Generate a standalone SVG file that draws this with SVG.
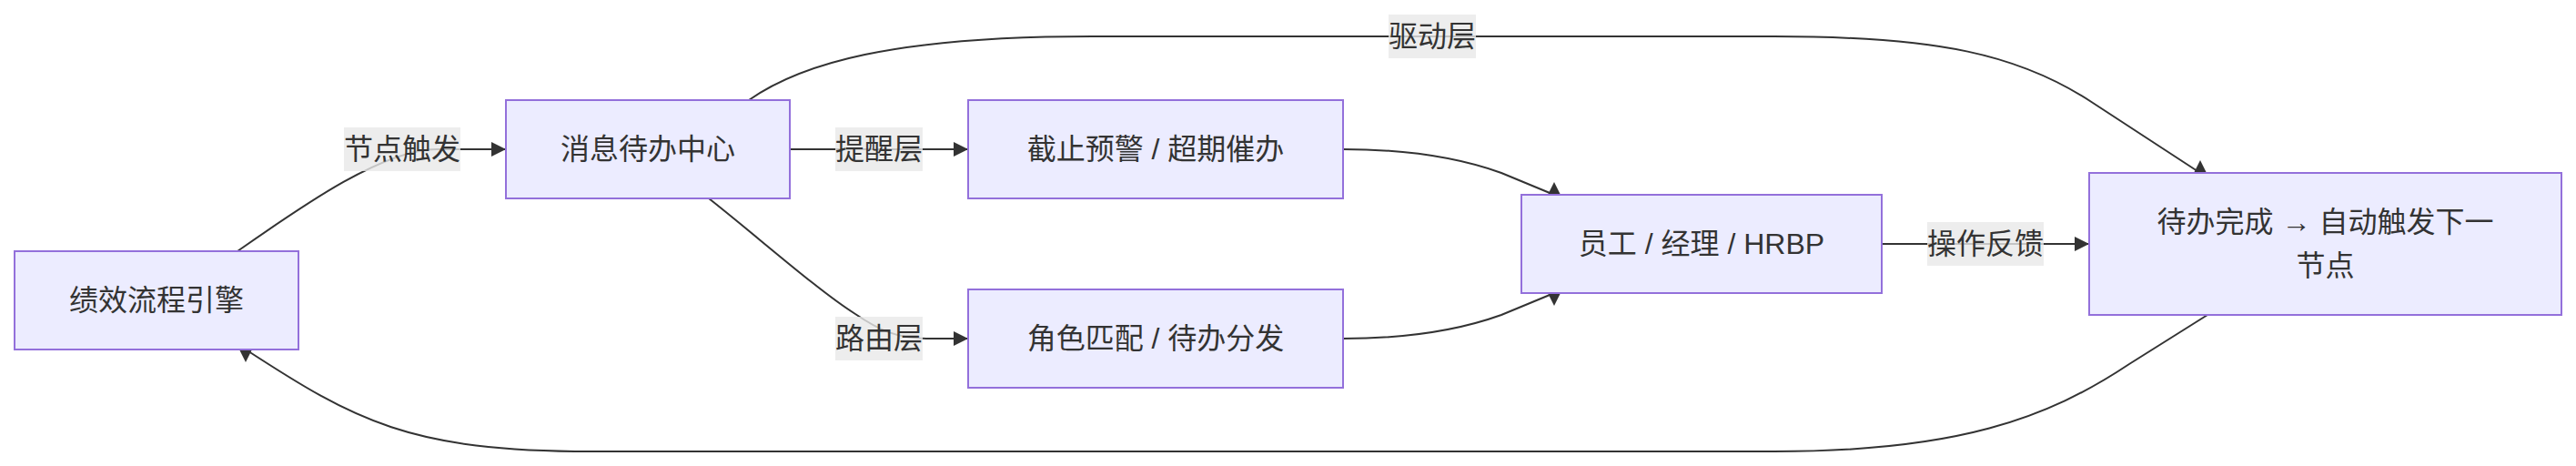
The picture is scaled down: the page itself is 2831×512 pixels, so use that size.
<svg xmlns="http://www.w3.org/2000/svg" width="2831" height="512" viewBox="0 0 2831 512">
<style>
.node rect{fill:#ECECFF;stroke:#9370DB;stroke-width:2}
text{font-family:"Liberation Sans","Noto Sans CJK SC",sans-serif;font-size:32px;fill:#333333;text-anchor:middle;dominant-baseline:central}
.edge{fill:none;stroke:#333333;stroke-width:2}
.lbl rect{fill:#e8e8e8;fill-opacity:0.8}
</style>
<defs>
<marker id="arr" viewBox="0 0 10 10" refX="10" refY="5" markerUnits="userSpaceOnUse" markerWidth="16" markerHeight="16" orient="auto"><path d="M0,0 L10,5 L0,10 z" fill="#333333"/></marker>
<marker id="arrUp" viewBox="0 0 10 10" refX="0" refY="5" markerUnits="userSpaceOnUse" markerWidth="14" markerHeight="16" orient="-90"><path d="M0,0 L10,5 L0,10 z" fill="#333333"/></marker>
<marker id="arrDown" viewBox="0 0 10 10" refX="0" refY="5" markerUnits="userSpaceOnUse" markerWidth="14" markerHeight="16" orient="90"><path d="M0,0 L10,5 L0,10 z" fill="#333333"/></marker>
</defs>
<g id="connectors">
<path class="edge" d="M261,276 C330,228 420,164 480,164 L556,164" marker-end="url(#arr)"/>
<path class="edge" d="M868,164 L1064,164" marker-end="url(#arr)"/>
<path class="edge" d="M779,218 C830,258 900,320 940,345 C965,362 985,372 1020,372 L1064,372" marker-end="url(#arr)"/>
<path class="edge" d="M823,110 C880,70 980,40 1200,40 L1950,40 C2130,40 2220,60 2300,113 L2418,190" marker-end="url(#arrUp)"/>
<path class="edge" d="M1476,164 C1540,164 1600,172 1650,190 L1708,214" marker-end="url(#arrUp)"/>
<path class="edge" d="M1476,372 C1540,372 1600,364 1650,346 L1708,322" marker-end="url(#arrDown)"/>
<path class="edge" d="M2068,268 L2296,268" marker-end="url(#arr)"/>
<path class="edge" d="M2426,346 L2340,400 C2250,460 2150,496 1950,496 L650,496 C450,496 390,462 270,384" marker-end="url(#arrDown)"/>
</g>
<g id="edge-labels">
<g class="lbl" id="lbl-trigger"><rect x="378" y="140" width="128" height="48"/><text x="442" y="164">节点触发</text></g>
<g class="lbl" id="lbl-remind"><rect x="918" y="140" width="96" height="48"/><text x="966" y="164">提醒层</text></g>
<g class="lbl" id="lbl-route"><rect x="918" y="348" width="96" height="48"/><text x="966" y="372">路由层</text></g>
<g class="lbl" id="lbl-drive"><rect x="1526" y="16" width="96" height="48"/><text x="1574" y="40">驱动层</text></g>
<g class="lbl" id="lbl-feedback"><rect x="2118" y="244" width="128" height="48"/><text x="2182" y="268">操作反馈</text></g>
</g>
<g class="node" id="engine"><rect x="16" y="276" width="312" height="108"/><text x="172" y="330">绩效流程引擎</text></g>
<g class="node" id="center"><rect x="556" y="110" width="312" height="108"/><text x="712" y="164">消息待办中心</text></g>
<g class="node" id="remind"><rect x="1064" y="110" width="412" height="108"/><text x="1270" y="164">截止预警 / 超期催办</text></g>
<g class="node" id="route"><rect x="1064" y="318" width="412" height="108"/><text x="1270" y="372">角色匹配 / 待办分发</text></g>
<g class="node" id="users"><rect x="1672" y="214" width="396" height="108"/><text x="1870" y="268">员工 / 经理 / HRBP</text></g>
<g class="node" id="done"><rect x="2296" y="190" width="519" height="156"/><text x="2555.5" y="244">待办完成 → 自动触发下一</text><text x="2555.5" y="292">节点</text></g>
</svg>
